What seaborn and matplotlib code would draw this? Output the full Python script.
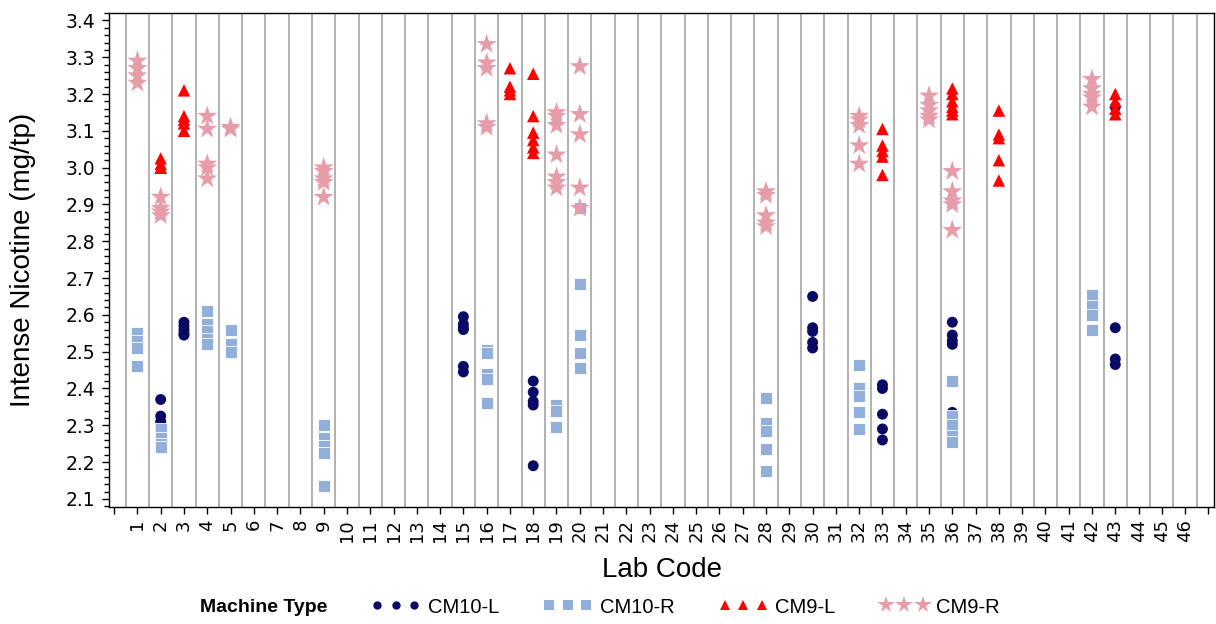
import numpy as np
import pandas as pd
import matplotlib
matplotlib.use("Agg")
import matplotlib.pyplot as plt
from matplotlib.lines import Line2D
from matplotlib.ticker import MultipleLocator
import seaborn as sns

# Valeurs (lab code, nicotine)
cm10l_lab = [2, 2, 2, 2, 2, 3, 3, 3, 3, 3, 15, 15, 15, 15, 15, 15,
             18, 18, 18, 18, 18, 30, 30, 30, 30, 30, 33, 33, 33, 33, 33,
             36, 36, 36, 36, 36, 43, 43, 43, 43]
cm10l_val = [2.37, 2.325, 2.31, 2.30, 2.29, 2.58, 2.57, 2.56, 2.55, 2.545,
             2.595, 2.575, 2.565, 2.56, 2.46, 2.445,
             2.42, 2.39, 2.365, 2.355, 2.19, 2.65, 2.565, 2.555, 2.525, 2.51,
             2.41, 2.40, 2.33, 2.29, 2.26,
             2.58, 2.545, 2.53, 2.52, 2.335, 3.165, 2.565, 2.48, 2.465]

cm10r_lab = [1, 1, 1, 1, 2, 2, 2, 2, 4, 4, 4, 4, 4, 5, 5, 5,
             9, 9, 9, 9, 9, 16, 16, 16, 16, 16, 19, 19, 19,
             20, 20, 20, 20, 20, 28, 28, 28, 28, 28, 32, 32, 32, 32, 32,
             36, 36, 36, 36, 36, 42, 42, 42, 42]
cm10r_val = [2.55, 2.53, 2.51, 2.46, 2.29, 2.265, 2.25, 2.24,
             2.61, 2.575, 2.555, 2.535, 2.52, 2.56, 2.52, 2.50,
             2.30, 2.265, 2.245, 2.225, 2.135, 2.505, 2.495, 2.44, 2.425, 2.36,
             2.355, 2.34, 2.295, 2.685, 2.545, 2.495, 2.455, 2.89,
             2.375, 2.305, 2.285, 2.235, 2.175, 2.465, 2.40, 2.38, 2.335, 2.29,
             2.42, 2.325, 2.30, 2.27, 2.255, 2.655, 2.625, 2.60, 2.56]

cm9l_lab = [2, 2, 2, 2, 3, 3, 3, 3, 3, 17, 17, 17, 17,
            18, 18, 18, 18, 18, 18, 33, 33, 33, 33, 33,
            36, 36, 36, 36, 36, 36, 38, 38, 38, 38, 38, 43, 43, 43, 43]
cm9l_val = [3.025, 3.01, 3.00, 3.00, 3.21, 3.14, 3.13, 3.12, 3.10,
            3.27, 3.22, 3.21, 3.20, 3.255, 3.14, 3.095, 3.075, 3.055, 3.04,
            3.105, 3.06, 3.045, 3.03, 2.98,
            3.215, 3.20, 3.18, 3.165, 3.155, 3.145,
            3.155, 3.09, 3.08, 3.02, 2.965, 3.20, 3.18, 3.16, 3.145]

cm9r_lab = [1, 1, 1, 1, 2, 2, 2, 2, 4, 4, 4, 4, 4, 5, 5,
            9, 9, 9, 9, 9, 16, 16, 16, 16, 16,
            19, 19, 19, 19, 19, 19, 19, 20, 20, 20, 20, 20,
            28, 28, 28, 28, 28, 32, 32, 32, 32, 32, 35, 35, 35, 35, 35,
            36, 36, 36, 36, 36, 42, 42, 42, 42, 42]
cm9r_val = [3.29, 3.27, 3.25, 3.23, 2.92, 2.89, 2.88, 2.87,
            3.14, 3.105, 3.01, 3.00, 2.97, 3.11, 3.105,
            3.00, 2.99, 2.97, 2.96, 2.92, 3.335, 3.285, 3.27, 3.12, 3.11,
            3.15, 3.14, 3.115, 3.035, 2.975, 2.96, 2.945,
            3.275, 3.145, 3.09, 2.945, 2.89,
            2.935, 2.925, 2.87, 2.85, 2.84, 3.14, 3.13, 3.115, 3.06, 3.01,
            3.195, 3.17, 3.155, 3.14, 3.13,
            2.99, 2.935, 2.91, 2.90, 2.83, 3.24, 3.215, 3.20, 3.19, 3.165]

machine_types = ["CM10-L", "CM10-R", "CM9-L", "CM9-R"]
lab_codes = list(range(1, 47))
y_ticks = [2.1, 2.2, 2.3, 2.4, 2.5, 2.6, 2.7, 2.8, 2.9, 3.0, 3.1, 3.2, 3.3, 3.4]

colors = {"CM10-L": "#0a0a66", "CM10-R": "#92afdb", "CM9-L": "#ff0000", "CM9-R": "#e79ca9"}
markers = {"CM10-L": "o", "CM10-R": "s", "CM9-L": "^", "CM9-R": "*"}
msizes = {"CM10-L": 62, "CM10-R": 74, "CM9-L": 80, "CM9-R": 230}
edges = {"CM10-L": "none", "CM10-R": "white", "CM9-L": "none", "CM9-R": "none"}

frames = []
for m, labs, vals in zip(machine_types,
                         [cm10l_lab, cm10r_lab, cm9l_lab, cm9r_lab],
                         [cm10l_val, cm10r_val, cm9l_val, cm9r_val]):
    frames.append(pd.DataFrame({"lab": labs, "value": vals, "machine": m}))
df = pd.concat(frames, ignore_index=True)

sns.set_theme(style="white")
plt.rcParams["font.family"] = ["Liberation Sans", "DejaVu Sans"]
plt.rcParams["text.color"] = "black"
plt.rcParams["axes.labelcolor"] = "black"
plt.rcParams["xtick.color"] = "black"
plt.rcParams["ytick.color"] = "black"

fig = plt.figure(figsize=(12.16, 6.24), dpi=100)
ax = fig.add_axes([109 / 1216, 1 - 506.6 / 624, 1105 / 1216, 493.9 / 624])

for m in machine_types:
    sub = df[df["machine"] == m]
    sns.scatterplot(data=sub, x="lab", y="value", ax=ax, color=colors[m],
                    marker=markers[m], s=msizes[m], edgecolor=edges[m],
                    linewidth=0.6, legend=False, zorder=3)

# axes
ax.set_xlim(-0.22, 47.24)
ax.set_ylim(2.079, 3.421)
ax.set_xticks(range(0, 48))
ax.set_xticklabels([""] + [str(c) for c in lab_codes] + [""], rotation=90,
                   fontsize=13, family="DejaVu Sans", va="top")
ax.set_xticks(np.arange(0.5, 47, 1), minor=True)
ax.grid(axis="x", which="minor", color="#9c9c9c", linewidth=1.1)
ax.grid(axis="y", visible=False)
ax.set_axisbelow(True)

ax.yaxis.set_minor_locator(MultipleLocator(0.02))
ax.set_yticks(y_ticks)
ax.set_yticklabels([f"{v:.1f}" for v in y_ticks], fontsize=13.5, family="DejaVu Sans")

ax.tick_params(axis="x", which="major", bottom=True, length=5, width=1, pad=4)
ax.tick_params(axis="x", which="minor", bottom=False, length=0)
ax.tick_params(axis="y", which="major", left=True, length=5, width=1, pad=5)
ax.tick_params(axis="y", which="minor", left=True, length=3.5, width=1)

for sp in ax.spines.values():
    sp.set_color("black")
    sp.set_linewidth(1)

ax.set_xlabel("Lab Code", fontsize=20)
ax.set_ylabel("Intense Nicotine (mg/tp)", fontsize=20)
ax.xaxis.set_label_coords(0.5, -0.102)
ax.yaxis.set_label_coords(-0.066, 0.5)

# legend
handles = [Line2D([], [], linestyle="none", marker=markers[m], color=colors[m],
                  markersize={"CM10-L": 6, "CM10-R": 7, "CM9-L": 7.5, "CM9-R": 13}[m],
                  markeredgewidth=0)
           for m in machine_types]
fig.legend(handles, machine_types, loc="center left", bbox_to_anchor=(371 / 1216, 0.0272),
           ncol=4, frameon=False, numpoints=3, handlelength=2.45, handletextpad=0.36,
           columnspacing=2.2, fontsize=14.5, borderpad=0, borderaxespad=0)
fig.text(200 / 1216, 0.0272, "Machine Type", ha="left", va="center",
         fontsize=14, fontweight="bold")

fig.savefig("out.png", dpi=100)
